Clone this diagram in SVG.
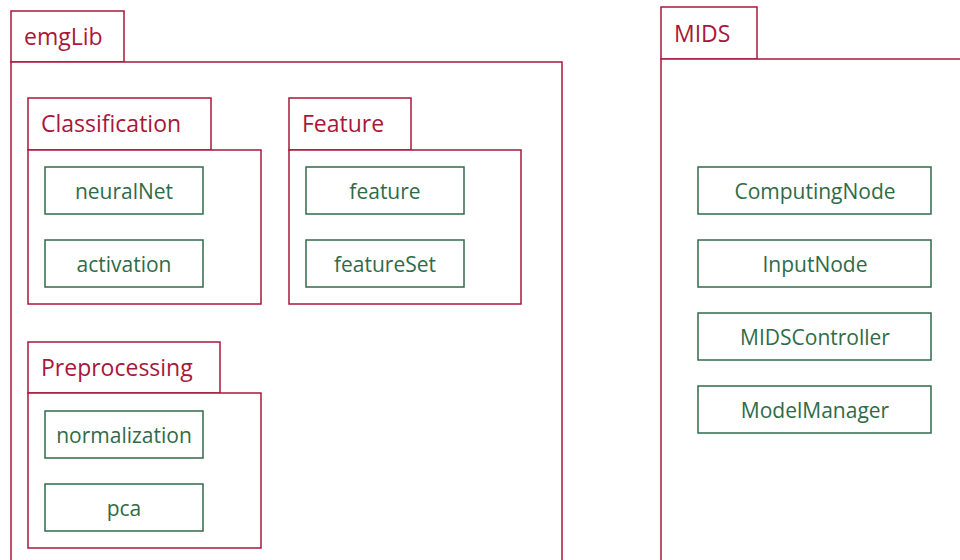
<svg xmlns="http://www.w3.org/2000/svg" width="960" height="560" viewBox="0 0 960 560">
  <style>
    .pkg { fill: #ffffff; stroke: #a8173a; stroke-width: 1.5; }
    .pkgLabel { font-family: "Open Sans", "Liberation Sans", sans-serif; font-size: 23px; fill: #a8173a; }
    .cls { fill: #ffffff; stroke: #2f6b48; stroke-width: 1.5; }
    .clsLabel { font-family: "Open Sans", "Liberation Sans", sans-serif; font-size: 21px; fill: #2f6b48; text-anchor: middle; }
  </style>
  <rect width="960" height="560" fill="#ffffff"/>

  <!-- emgLib package -->
  <g id="emgLib">
    <rect class="pkg" x="11" y="11" width="113" height="51"/>
    <rect class="pkg" x="11" y="62" width="551" height="510"/>
    <text class="pkgLabel" x="24" y="45">emgLib</text>
  </g>

  <!-- Classification package -->
  <g id="Classification">
    <rect class="pkg" x="28" y="98" width="183" height="52"/>
    <rect class="pkg" x="28" y="150" width="233" height="154"/>
    <text class="pkgLabel" x="41" y="132">Classification</text>
  </g>
  <g id="neuralNet">
    <rect class="cls" x="45" y="167" width="158" height="47"/>
    <text class="clsLabel" x="124" y="199">neuralNet</text>
  </g>
  <g id="activation">
    <rect class="cls" x="45" y="240" width="158" height="47"/>
    <text class="clsLabel" x="124" y="272">activation</text>
  </g>

  <!-- Feature package -->
  <g id="Feature">
    <rect class="pkg" x="289" y="98" width="122" height="52"/>
    <rect class="pkg" x="289" y="150" width="232" height="154"/>
    <text class="pkgLabel" x="302" y="132">Feature</text>
  </g>
  <g id="feature">
    <rect class="cls" x="306" y="167" width="158" height="47"/>
    <text class="clsLabel" x="385" y="199">feature</text>
  </g>
  <g id="featureSet">
    <rect class="cls" x="306" y="240" width="158" height="47"/>
    <text class="clsLabel" x="385" y="272">featureSet</text>
  </g>

  <!-- Preprocessing package -->
  <g id="Preprocessing">
    <rect class="pkg" x="28" y="342" width="192" height="51"/>
    <rect class="pkg" x="28" y="393" width="233" height="155"/>
    <text class="pkgLabel" x="41" y="376">Preprocessing</text>
  </g>
  <g id="normalization">
    <rect class="cls" x="45" y="411" width="158" height="47"/>
    <text class="clsLabel" x="124" y="443">normalization</text>
  </g>
  <g id="pca">
    <rect class="cls" x="45" y="484" width="158" height="47"/>
    <text class="clsLabel" x="124" y="516">pca</text>
  </g>

  <!-- MIDS package -->
  <g id="MIDS">
    <rect class="pkg" x="661" y="7" width="96" height="52"/>
    <rect class="pkg" x="661" y="59" width="320" height="520"/>
    <text class="pkgLabel" x="674" y="42">MIDS</text>
  </g>
  <g id="ComputingNode">
    <rect class="cls" x="698" y="167" width="233" height="47"/>
    <text class="clsLabel" x="815" y="199">ComputingNode</text>
  </g>
  <g id="InputNode">
    <rect class="cls" x="698" y="240" width="233" height="47"/>
    <text class="clsLabel" x="815" y="272">InputNode</text>
  </g>
  <g id="MIDSController">
    <rect class="cls" x="698" y="313" width="233" height="47"/>
    <text class="clsLabel" x="815" y="345">MIDSController</text>
  </g>
  <g id="ModelManager">
    <rect class="cls" x="698" y="386" width="233" height="47"/>
    <text class="clsLabel" x="815" y="418">ModelManager</text>
  </g>

  <!-- no connectors between elements -->
  <g id="connectors"/>
</svg>
